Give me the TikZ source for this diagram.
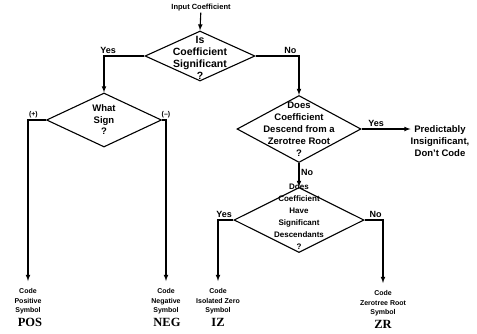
\documentclass[tikz,border=0pt]{standalone}
\usepackage{fontspec}
\setmainfont{Liberation Sans}
\newfontfamily\symfont{Liberation Serif}
\usetikzlibrary{shapes.geometric}
\tikzset{
  dia/.style={draw, diamond, inner sep=0pt, line width=1.1pt},
  dtext/.style={align=center, inner sep=0pt, font=\bfseries\fontsize{9.5}{12}\selectfont},
  flow/.style={line width=1.1pt, -latex},
  lbl/.style={inner sep=1.5pt, font=\bfseries\fontsize{9}{10}\selectfont},
  codetext/.style={align=center, anchor=north, inner xsep=0pt, inner ysep=7pt,
    font=\bfseries\fontsize{7}{9.8}\selectfont},
  symtext/.style={inner sep=0pt, font=\symfont\bfseries\fontsize{12.5}{13}\selectfont}
}
\begin{document}
\begin{tikzpicture}[x=1pt,y=-1pt]
  %\draw[step=20,gray,very thin] (0,0) grid (477,333);
  \useasboundingbox (0,0) rectangle (477,333);
  \node[inner sep=1pt, font=\bfseries\fontsize{7.5}{8}\selectfont] (inp) at (201,8) {Input Coefficient};
  \node[dia, minimum width=110pt, minimum height=50pt,
    label={[dtext, font=\bfseries\fontsize{10.5}{12}\selectfont, yshift=-2pt]center:Is\\Coefficient\\Significant\\?}] (sig) at (200,56) {};
  \node[dia, minimum width=115pt, minimum height=54pt,
    label={[dtext, font=\bfseries\fontsize{9.5}{11.5}\selectfont]center:What\\Sign\\?}] (sign) at (104,120) {};
  \node[dia, minimum width=124pt, minimum height=67pt,
    label={[dtext]center:Does\\Coefficient\\Descend from a\\Zerotree Root\\?}] (desc) at (299,129) {};
  \node[dia, minimum width=130pt, minimum height=65pt,
    label={[dtext, font=\bfseries\fontsize{8}{12}\selectfont, yshift=3pt]center:Does\\Coefficient\\Have\\Significant\\Descendants\\?}] (have) at (299,220) {};
  \node[align=center, inner sep=0pt, font=\bfseries\fontsize{9.5}{12}\selectfont] (pred) at (440,141) {Predictably\\Insignificant,\\Don't Code};
  % leaves
  \node[codetext] (pos) at (28,281) {Code\\Positive\\Symbol};
  \node[codetext] (neg) at (166,281) {Code\\Negative\\Symbol};
  \node[codetext] (iz) at (218,281) {Code\\Isolated Zero\\Symbol};
  \node[codetext] (zr) at (383,283) {Code\\Zerotree Root\\Symbol};
  \node[symtext] (possym) at (30,322) {POS};
  \node[symtext] (negsym) at (167,322) {NEG};
  \node[symtext] (izsym) at (218,322) {IZ};
  \node[symtext] (zrsym) at (383,324) {ZR};
  % connectors
  \draw[flow] (inp) -- (sig.north);
  \draw[flow] (sig.west) -| node[lbl, pos=0.45, above] (yes1) {Yes} (sign.north);
  \draw[flow] (sig.east) -| node[lbl, pos=0.4, above] (no1) {No} (desc.north);
  \draw[flow] (sign.west) -| node[lbl, pos=0.5, above right, xshift=-1pt, font=\bfseries\fontsize{7}{8}\selectfont] (plus) {(+)} (pos.north);
  \draw[flow] (sign.east) -| node[lbl, pos=0.5, above, font=\bfseries\fontsize{7}{8}\selectfont] (minus) {(--)} (neg.north);
  \draw[flow] (desc.east) -- node[lbl, pos=0.3, above] (yes2) {Yes} (desc.east -| pred.west);
  \draw[flow] (desc.south) -- node[lbl, pos=0.4, right] (no2) {No} (have.north);
  \draw[flow] (have.west) -| node[lbl, pos=0.3, above] (yes3) {Yes} (iz.north);
  \draw[flow] (have.east) -| node[lbl, pos=0.3, above] (no3) {No} (zr.north);
\end{tikzpicture}
\end{document}
